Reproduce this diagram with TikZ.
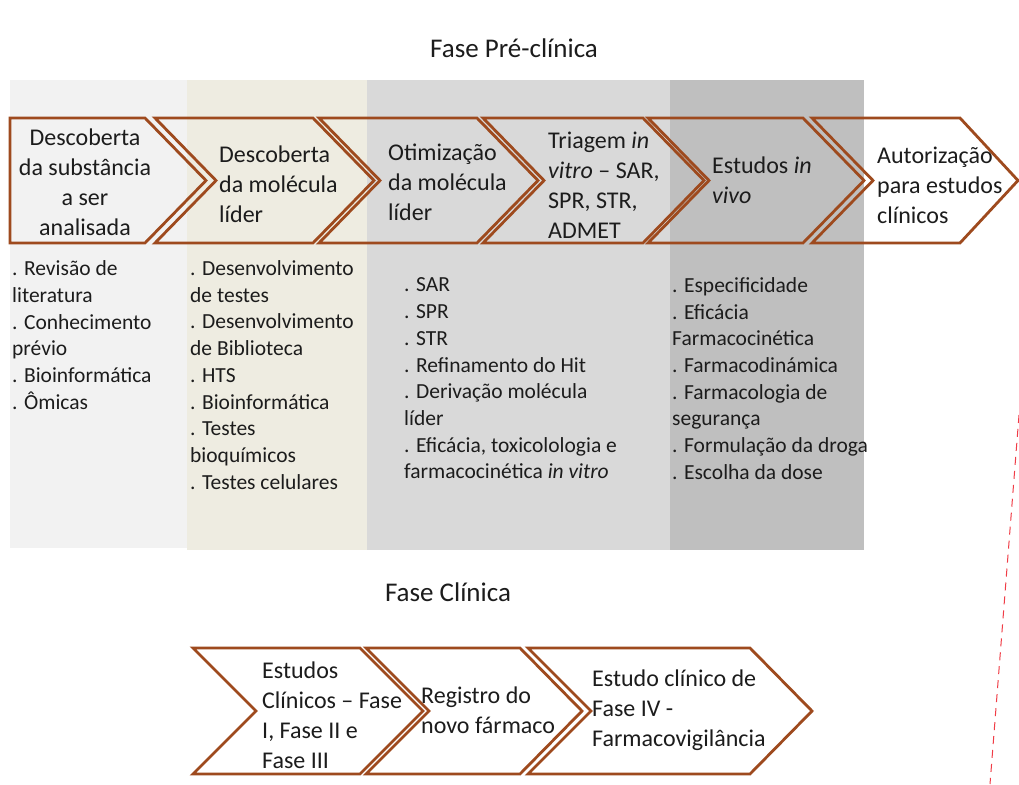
\documentclass[tikz,border=0pt]{standalone}
\usepackage{fontspec}
\setmainfont{Carlito}
\definecolor{brownline}{RGB}{158,74,30}
\definecolor{bgA}{RGB}{242,242,242}
\definecolor{bgB}{RGB}{238,236,225}
\definecolor{bgC}{RGB}{217,217,217}
\definecolor{bgD}{RGB}{191,191,191}
\definecolor{txt}{RGB}{28,28,28}
\definecolor{redline}{RGB}{240,60,70}
\tikzset{
  chev/.style={draw=brownline, line width=2.8pt, line join=miter},
  chevtext/.style={font=\fontsize{24}{30}\selectfont, text=txt, align=left, inner sep=0pt, anchor=west},
  listtext/.style={font=\fontsize{21.5}{26.7}\selectfont, text=txt, align=left, inner sep=0pt, anchor=west},
  titletext/.style={font=\fontsize{27}{30}\selectfont, text=txt, inner sep=0pt}
}
\begin{document}
\begin{tikzpicture}[x=1pt,y=-1pt]
\useasboundingbox (0,0) rectangle (1019,784);
\fill[white] (0,0) rectangle (1019,784);
% column backgrounds
\fill[bgA] (10,80) rectangle (187,548);
\fill[bgB] (187,80) rectangle (367,550);
\fill[bgC] (367,80) rectangle (670,550);
\fill[bgD] (670,80) rectangle (864,550);
% titles
\node[titletext] (t1) at (514,48) {Fase Pré-clínica};
\node[titletext] (t2) at (448,592) {Fase Clínica};
% top chevrons
\draw[chev] (10,118) -- (145,118) -- (206,180.5) -- (145,243) -- (10,243) -- cycle;
\draw[chev] (155,118) -- (313,118) -- (374,180.5) -- (313,243) -- (155,243) -- (216,180.5) -- cycle;
\draw[chev] (319,118) -- (477,118) -- (538,180.5) -- (477,243) -- (319,243) -- (380,180.5) -- cycle;
\draw[chev] (483,118) -- (643,118) -- (704,180.5) -- (643,243) -- (483,243) -- (544,180.5) -- cycle;
\draw[chev] (648,118) -- (803,118) -- (864,180.5) -- (803,243) -- (648,243) -- (709,180.5) -- cycle;
\draw[chev] (812,118) -- (960,118) -- (1018,180.5) -- (960,243) -- (812,243) -- (873,180.5) -- cycle;
% top chevron texts
\node[chevtext, anchor=center, align=center] (c1) at (85,182.5) {Descoberta\\da substância\\a ser\\analisada};
\node[chevtext] (c2) at (219,184) {Descoberta\\da molécula\\líder};
\node[chevtext] (c3) at (388,182) {Otimização\\da molécula\\líder};
\node[chevtext] (c4) at (548,185) {Triagem \textit{in}\\\textit{vitro} – SAR,\\SPR, STR,\\ADMET};
\node[chevtext] (c5) at (712,180) {Estudos \textit{in}\\\textit{vivo}};
\node[chevtext] (c6) at (877,185) {Autorização\\para estudos\\clínicos};
% lists
\node[listtext] (l1) at (12,335) {. Revisão de\\literatura\\. Conhecimento\\prévio\\. Bioinformática\\. Ômicas};
\node[listtext] (l2) at (190,375) {. Desenvolvimento\\de testes\\. Desenvolvimento\\de Biblioteca\\. HTS\\. Bioinformática\\. Testes\\bioquímicos\\. Testes celulares};
\node[listtext] (l3) at (404,378.5) {. SAR\\. SPR\\. STR\\. Refinamento do Hit\\. Derivação molécula\\líder\\. Eficácia, toxicolologia e\\farmacocinética \textit{in vitro}};
\node[listtext] (l4) at (672,378.5) {. Especificidade\\. Eficácia\\Farmacocinética\\. Farmacodinámica\\. Farmacologia de\\segurança\\. Formulação da droga\\. Escolha da dose};
% bottom chevrons
\draw[chev] (193,648) -- (360,648) -- (423,711) -- (360,774) -- (193,774) -- (256,711) -- cycle;
\draw[chev] (366,648) -- (520,648) -- (582,711) -- (520,774) -- (366,774) -- (429,711) -- cycle;
\draw[chev] (528,648) -- (750,648) -- (812,711) -- (750,774) -- (528,774) -- (591,711) -- cycle;
\node[chevtext] (b1) at (262,715.5) {Estudos\\Clínicos – Fase\\I, Fase II e\\Fase III};
\node[chevtext] (b2) at (421,710) {Registro do\\novo fármaco};
\node[chevtext] (b3) at (592,710.5) {Estudo clínico de\\Fase IV -\\Farmacovigilância};
% red dashed line
\draw[redline, line width=1pt, dash pattern=on 8pt off 6pt] (1019,415) -- (990,784);
\end{tikzpicture}
\end{document}
